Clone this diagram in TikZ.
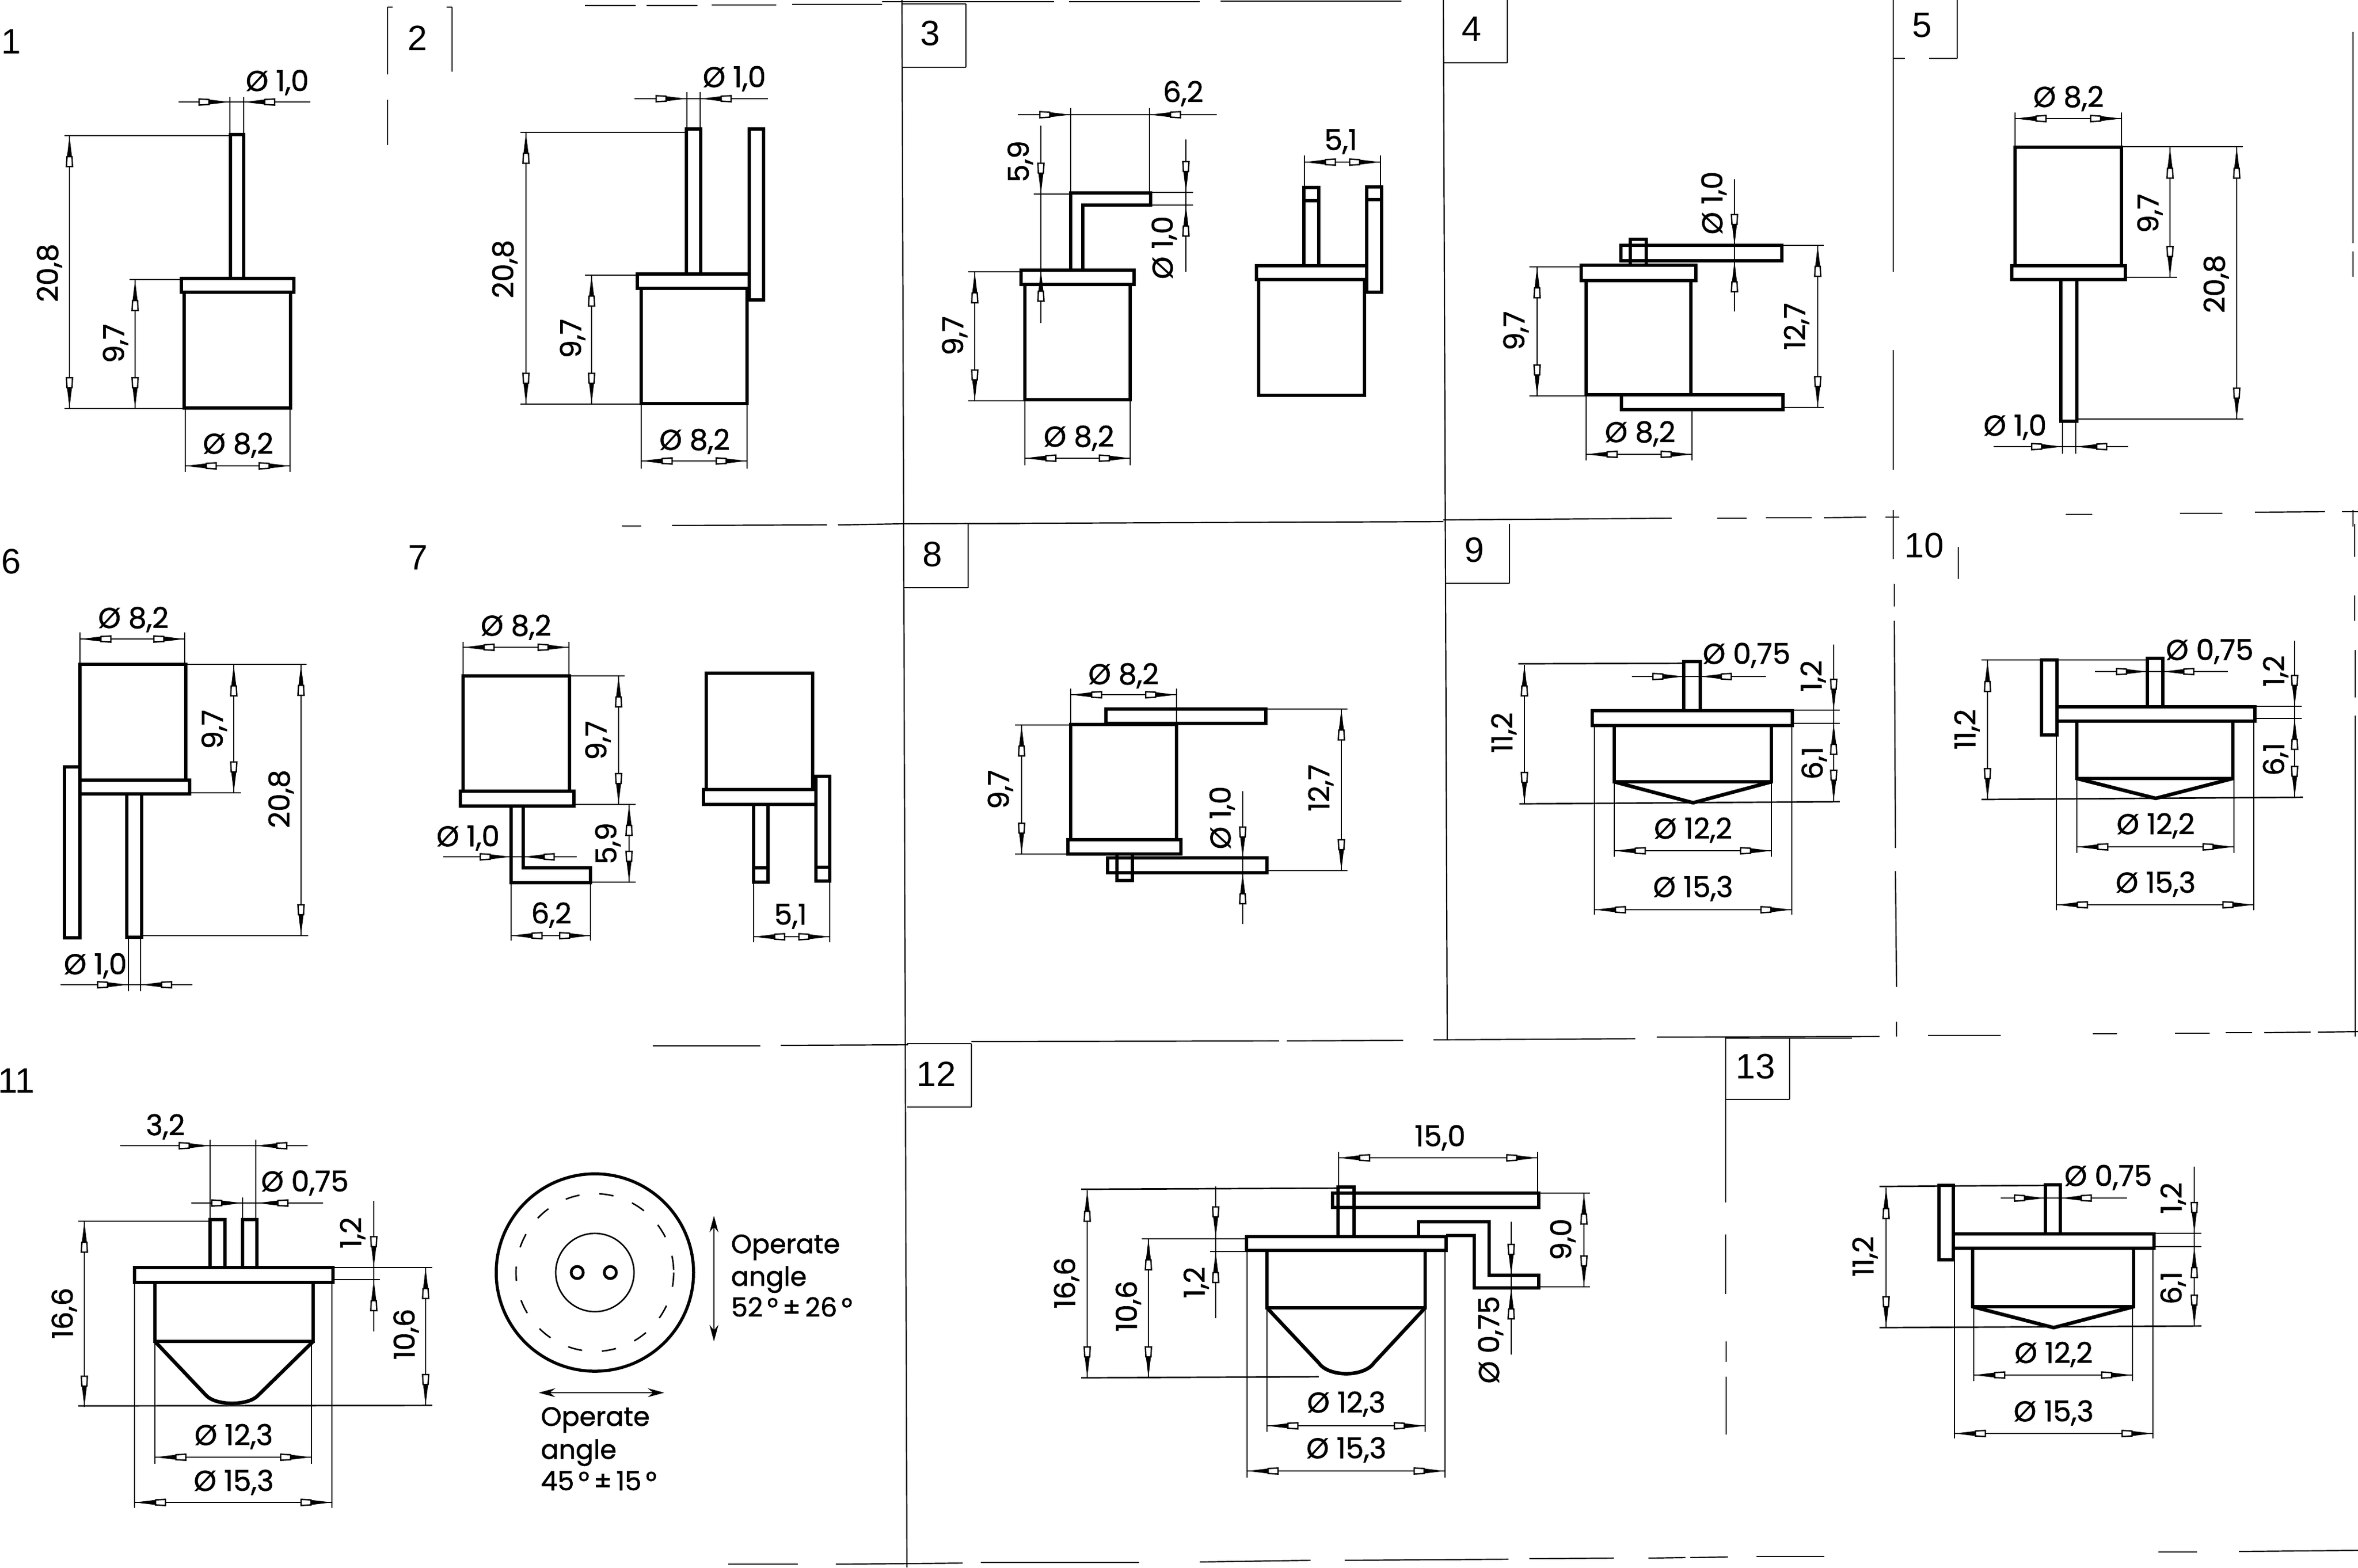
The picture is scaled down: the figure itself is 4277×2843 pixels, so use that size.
\documentclass[tikz,border=0pt]{standalone}
\usepackage{fontspec}
\usetikzlibrary{arrows.meta}
\setmainfont{Poppins}[FakeBold=1.2]
\newfontfamily\pnum{Liberation Sans}
\tikzset{
  ol/.style={line width=0.65pt,line join=miter},
  th/.style={line width=0.27pt},
  fr/.style={line width=0.22pt},
  dimtxt/.style={inner sep=0pt,text height=3.6pt,text depth=0pt,font=\fontsize{5.2}{6}\selectfont},
  pnumtxt/.style={inner sep=0pt,font=\pnum\fontsize{6.4}{7}\selectfont},
  optxt/.style={inner sep=0pt,anchor=west,text height=3.4pt,text depth=0pt,font=\fontsize{4.8}{5.8}\selectfont}
}
% arrow head: tip at (#1,#2), tail direction = #3 (canvas rotation)
\newcommand{\ah}[3]{\begin{scope}[shift={(#1,#2)},rotate=#3]
  \fill (0,0)--(38,-4.5)--(38,4.5)--cycle;
  \draw[line width=0.25pt,fill=white] (38,-4.5)--(56,-5.5)--(56,5.5)--(38,4.5)--cycle;
\end{scope}}
\newcommand{\dimH}[3]{\draw[th] (#1,#3)--(#2,#3);\ah{#1}{#3}{0}\ah{#2}{#3}{180}}
\newcommand{\dimV}[3]{\draw[th] (#1,#2)--(#1,#3);\ah{#1}{#2}{-90}\ah{#1}{#3}{90}}
% outside: line a..d, tips at b (pointing +) and c (pointing -)
\newcommand{\dimHo}[5]{\draw[th] (#1,#5)--(#4,#5);\ah{#2}{#5}{180}\ah{#3}{#5}{0}}
\newcommand{\dimVo}[5]{\draw[th] (#5,#1)--(#5,#4);\ah{#5}{#2}{90}\ah{#5}{#3}{-90}}
\newcommand{\thinl}[4]{\draw[th] (#1,#2)--(#3,#4);}
\newcommand{\rectb}[4]{\draw[ol] (#1,#2) rectangle (#3,#4);}
\newcommand{\lbl}[3]{\node[dimtxt] at (#1,#2) {#3};}
\newcommand{\lblr}[3]{\node[dimtxt,rotate=90] at (#1,#2) {#3};}
\newcommand{\pn}[3]{\node[pnumtxt] at (#1,#2) {#3};}
\begin{document}
\begin{tikzpicture}[x=0.1pt,y=-0.1pt]
\useasboundingbox (0,0) rectangle (4277,2843);
% ---------- frame lines
\foreach \a/\b/\c/\d in {
 1636/0/1645/2843, 2618/0/2625/1886, 2734/0/2734/114, 2618/114/2734/114,
 1636/7/1752/7, 1752/7/1752/122, 1636/122/1752/122,
 703/13/703/135, 703/181/703/263, 820/13/820/130, 703/13/712/13, 810/13/820/13,
 1061/10/1153/10, 1173/10/1265/10, 1291/9/1408/9, 1437/8/1600/8, 1600/3/1912/3, 1939/3/2176/3, 2214/2/2542/2,
 3434/0/3434/493, 3434/635/3434/852, 3434/925/3434/1014, 3436/1059/3436/1100, 3436/1126/3438/1538, 3438/1580/3440/1790, 3440/1853/3440/1880,
 3550/0/3550/106, 3434/106/3455/106, 3499/106/3550/106,
 4268/58/4268/441, 4268/456/4268/502, 4268/925/4268/955, 4271/950/4271/1010, 4271/1080/4271/1126, 4272/1179/4272/1265, 4272/1298/4272/1880,
 1128/954/1163/954, 1219/953/1500/952, 1520/952/1636/950, 1636/950/2618/946, 2618/943/3032/940, 3115/940/3168/940, 3203/939/3286/939, 3308/939/3385/938, 3420/938/3445/938,
 3747/933/3795/933, 3954/931/4031/931, 4090/929/4217/928, 4248/928/4277/928,
 1756/950/1756/1066, 1640/1066/1756/1066, 1756/950/1850/950,
 2622/1058/2738/1058, 2738/950/2738/1058,
 3552/992/3552/1050,
 1184/1897/1379/1897, 1416/1896/1647/1895, 1762/1893/1762/2008, 1645/2008/1762/2008, 1645/1893/1762/1893,
 1762/1889/2320/1888, 2334/1888/2545/1887, 2600/1886/2966/1884, 3005/1881/3409/1880, 3497/1878/3629/1878, 3796/1875/3840/1875, 3945/1874/4008/1874, 4037/1873/4085/1873, 4107/1873/4191/1872, 4204/1872/4277/1871,
 3130/1880/3130/2181, 3130/2239/3130/2347, 3131/2433/3131/2470, 3131/2497/3131/2602, 3246/1883/3246/1994, 3130/1994/3246/1994, 3130/1883/3359/1883,
 1321/2837/1447/2837, 1516/2837/1650/2836, 1650/2836/1746/2835, 1779/2834/2066/2834, 2176/2833/2377/2830, 2439/2830/2736/2828, 2774/2827/2927/2826, 2990/2826/3057/2825, 3066/2825/3134/2824, 3186/2823/3309/2823, 3915/2815/3985/2815, 4061/2814/4277/2812}
 {\draw[fr] (\a,\b)--(\c,\d);}
% ---------- panel numbers
\pn{20}{75}{1}\pn{757}{69}{2}\pn{1687}{60}{3}\pn{2669}{52}{4}\pn{3486}{46}{5}
\pn{20}{1018}{6}\pn{758}{1011}{7}\pn{1691}{1005}{8}\pn{2674}{997}{9}\pn{3490}{989}{10}
\pn{30}{1960}{11}\pn{1698}{1948}{12}\pn{3184}{1934}{13}
% ---------- 1
\rectb{418}{244}{442}{505}\rectb{329}{505}{533}{530}\rectb{334}{530}{527}{740}
\thinl{417}{176}{417}{244}\thinl{442}{176}{442}{244}\dimHo{324}{417}{442}{563}{185}\lbl{503}{147}{Ø 1,0}
\thinl{117}{246}{418}{246}\thinl{117}{741}{334}{741}\dimV{126}{246}{741}\lblr{87}{495}{20,8}
\thinl{235}{507}{329}{507}\dimV{245}{507}{741}\lblr{207}{623}{9,7}
\thinl{336}{740}{336}{856}\thinl{526}{740}{526}{856}\dimH{336}{526}{845}\lbl{432}{805}{Ø 8,2}
% ---------- 2
\rectb{1245}{234}{1271}{497}\rectb{1156}{497}{1359}{523}\rectb{1163}{523}{1355}{732}\rectb{1359}{234}{1385}{544}
\thinl{1246}{167}{1246}{234}\thinl{1270}{167}{1270}{234}\dimHo{1151}{1246}{1270}{1393}{179}\lbl{1332}{140}{Ø 1,0}
\thinl{944}{240}{1245}{240}\thinl{944}{733}{1163}{733}\dimV{954}{240}{733}\lblr{913}{488}{20,8}
\thinl{1061}{499}{1156}{499}\dimV{1073}{499}{733}\lblr{1036}{614}{9,7}
\thinl{1163}{732}{1163}{850}\thinl{1355}{732}{1355}{850}\dimH{1163}{1355}{836}\lbl{1260}{798}{Ø 8,2}
% ---------- 3 left
\rectb{1852}{490}{2057}{516}\rectb{1859}{516}{2050}{725}
\draw[ol] (1942,490)--(1942,350)--(2087,350)--(2087,372)--(1964,372)--(1964,490);
\thinl{1942}{196}{1942}{350}\thinl{2085}{196}{2085}{350}\dimHo{1846}{1942}{2085}{2207}{208}\lbl{2146}{167}{6,2}
\thinl{1875}{352}{1942}{352}\dimVo{228}{352}{490}{586}{1888}\lblr{1848}{293}{5,9}
\thinl{2087}{349}{2164}{349}\thinl{2087}{372}{2164}{372}\dimVo{253}{349}{372}{493}{2151}\lblr{2109}{449}{Ø 1,0}
\thinl{1756}{493}{1852}{493}\thinl{1756}{727}{1859}{727}\dimV{1768}{493}{727}\lblr{1729}{609}{9,7}
\thinl{1859}{725}{1859}{844}\thinl{2050}{725}{2050}{844}\dimH{1859}{2050}{831}\lbl{1957}{792}{Ø 8,2}
% ---------- 3 right
\rectb{2279}{482}{2479}{507}\rectb{2283}{507}{2475}{717}
\rectb{2365}{340}{2392}{482}\draw[ol] (2365,364)--(2392,364);
\rectb{2479}{339}{2506}{530}\draw[ol] (2479,362)--(2506,362);
\thinl{2366}{282}{2366}{340}\thinl{2504}{282}{2504}{339}\dimH{2366}{2504}{294}\lbl{2432}{254}{5,1}
% ---------- 4
\rectb{2868}{481}{3076}{509}\rectb{2877}{509}{3067}{716}
\rectb{2940}{445}{3232}{473}\rectb{2957}{434}{2986}{481}\rectb{2941}{716}{3234}{743}
\thinl{2774}{484}{2868}{484}\thinl{2774}{718}{2877}{718}\dimV{2788}{484}{718}\lblr{2747}{600}{9,7}
\thinl{3232}{445}{3308}{445}\thinl{3234}{739}{3308}{739}\dimV{3297}{445}{739}\lblr{3256}{592}{12,7}
\dimVo{325}{445}{473}{565}{3146}\lblr{3106}{368}{Ø 1,0}
\thinl{2877}{716}{2877}{835}\thinl{3069}{743}{3069}{835}\dimH{2877}{3069}{824}\lbl{2975}{784}{Ø 8,2}
% ---------- 5
\rectb{3655}{267}{3848}{482}\rectb{3649}{482}{3855}{507}\rectb{3738}{507}{3767}{764}
\thinl{3655}{204}{3655}{267}\thinl{3848}{204}{3848}{267}\dimH{3655}{3848}{215}\lbl{3752}{176}{Ø 8,2}
\thinl{3848}{266}{4068}{266}\thinl{3855}{503}{3949}{503}\dimV{3936}{267}{503}\lblr{3897}{387}{9,7}
\thinl{3767}{760}{4069}{760}\dimV{4057}{267}{760}\lblr{4017}{515}{20,8}
\thinl{3741}{764}{3741}{823}\thinl{3765}{764}{3765}{823}\dimHo{3616}{3741}{3765}{3860}{810}\lbl{3655}{772}{Ø 1,0}
% ---------- 6
\rectb{145}{1205}{337}{1415}\rectb{145}{1415}{344}{1440}\rectb{117}{1391}{145}{1701}\rectb{230}{1440}{257}{1700}
\thinl{145}{1147}{145}{1205}\thinl{335}{1147}{335}{1205}\dimH{145}{335}{1159}\lbl{242}{1121}{Ø 8,2}
\thinl{337}{1205}{556}{1205}\thinl{344}{1438}{437}{1438}\dimV{424}{1206}{1438}\lblr{386}{1323}{9,7}
\thinl{257}{1697}{559}{1697}\dimV{546}{1205}{1697}\lblr{507}{1449}{20,8}
\thinl{233}{1700}{233}{1798}\thinl{255}{1700}{255}{1798}\dimHo{110}{233}{255}{349}{1786}\lbl{173}{1749}{Ø 1,0}
% ---------- 7 left
\rectb{840}{1226}{1033}{1435}\rectb{835}{1435}{1041}{1462}
\draw[ol] (927,1462)--(927,1601)--(1071,1601)--(1071,1574)--(949,1574)--(949,1462);
\thinl{840}{1164}{840}{1226}\thinl{1032}{1164}{1032}{1226}\dimH{840}{1032}{1174}\lbl{936}{1135}{Ø 8,2}
\thinl{1033}{1226}{1133}{1226}\thinl{1041}{1459}{1153}{1459}\dimV{1122}{1226}{1459}\lblr{1082}{1343}{9,7}
\thinl{1071}{1600}{1153}{1600}\dimV{1141}{1459}{1600}\lblr{1100}{1530}{5,9}
\dimHo{804}{927}{949}{1046}{1554}\lbl{849}{1517}{Ø 1,0}
\thinl{927}{1601}{927}{1706}\thinl{1071}{1601}{1071}{1706}\dimH{927}{1071}{1697}\lbl{1000}{1657}{6,2}
% ---------- 7 right
\rectb{1281}{1221}{1474}{1432}\rectb{1276}{1432}{1480}{1459}
\rectb{1367}{1459}{1393}{1600}\draw[ol] (1367,1574)--(1393,1574);
\rectb{1480}{1408}{1505}{1598}\draw[ol] (1480,1573)--(1505,1573);
\thinl{1367}{1600}{1367}{1709}\thinl{1505}{1598}{1505}{1709}\dimH{1367}{1505}{1699}\lbl{1434}{1659}{5,1}
% ---------- 8
\rectb{1942}{1314}{2134}{1523}\rectb{1937}{1523}{2142}{1549}
\rectb{2006}{1286}{2296}{1312}\rectb{2009}{1556}{2298}{1583}\rectb{2026}{1549}{2054}{1597}
\thinl{1942}{1249}{1942}{1314}\thinl{2134}{1249}{2134}{1314}\dimH{1942}{2134}{1260}\lbl{2038}{1223}{Ø 8,2}
\thinl{1841}{1315}{1942}{1315}\thinl{1841}{1549}{1937}{1549}\dimV{1853}{1315}{1549}\lblr{1812}{1432}{9,7}
\thinl{2296}{1286}{2444}{1286}\thinl{2298}{1579}{2444}{1579}\dimV{2433}{1286}{1579}\lblr{2393}{1429}{12,7}
\dimVo{1435}{1556}{1583}{1676}{2254}\lblr{2214}{1483}{Ø 1,0}
% ---------- 9
\rectb{2888}{1289}{3251}{1316}\draw[ol] (2928,1316)--(2928,1418)--(3213,1418)--(3213,1316);
\draw[ol] (2928,1418)--(3071,1456)--(3213,1418);
\rectb{3054}{1200}{3084}{1289}
\dimHo{2960}{3054}{3084}{3203}{1227}\lbl{3168}{1186}{Ø 0,75}
\thinl{3251}{1288}{3337}{1288}\thinl{3251}{1312}{3337}{1312}\thinl{2756}{1458}{3337}{1454}
\draw[th] (3326,1169)--(3326,1453);\ah{3326}{1288}{90}\ah{3326}{1312}{-90}\ah{3326}{1453}{90}
\lblr{3286}{1226}{1,2}\lblr{3288}{1384}{6,1}
\thinl{2754}{1204}{3054}{1203}\dimV{2765}{1206}{1457}\lblr{2725}{1329}{11,2}
\thinl{2928}{1418}{2928}{1554}\thinl{3213}{1418}{3213}{1554}\dimH{2928}{3213}{1543}\lbl{3071}{1503}{Ø 12,2}
\thinl{2892}{1317}{2892}{1659}\thinl{3250}{1317}{3250}{1659}\dimH{2892}{3250}{1650}\lbl{3071}{1609}{Ø 15,3}
% ---------- 10
\rectb{3731}{1282}{4090}{1308}\draw[ol] (3767,1308)--(3767,1412)--(4050,1412)--(4050,1308);
\draw[ol] (3767,1412)--(3910,1448)--(4050,1412);
\rectb{3895}{1194}{3923}{1282}\rectb{3703}{1197}{3731}{1333}
\dimHo{3800}{3895}{3923}{4041}{1218}\lbl{4008}{1179}{Ø 0,75}
\thinl{4090}{1281}{4175}{1281}\thinl{4090}{1303}{4175}{1303}\thinl{3594}{1450}{4177}{1446}
\draw[th] (4162,1162)--(4162,1446);\ah{4162}{1281}{90}\ah{4162}{1303}{-90}\ah{4162}{1446}{90}
\lblr{4125}{1217}{1,2}\lblr{4125}{1377}{6,1}
\thinl{3594}{1197}{3895}{1197}\dimV{3605}{1198}{1450}\lblr{3565}{1323}{11,2}
\thinl{3767}{1412}{3767}{1547}\thinl{4052}{1412}{4052}{1547}\dimH{3767}{4052}{1536}\lbl{3910}{1495}{Ø 12,2}
\thinl{3730}{1333}{3730}{1651}\thinl{4088}{1308}{4088}{1651}\dimH{3730}{4088}{1641}\lbl{3910}{1601}{Ø 15,3}
% ---------- 11
\rectb{381}{2212}{408}{2299}\rectb{440}{2212}{466}{2299}
\rectb{244}{2299}{604}{2326}
\draw[ol] (281,2326)--(281,2433)--(568,2433)--(568,2326);
\draw[ol] (281,2433)--(374,2531) .. controls (392,2550) and (450,2550) .. (468,2531)--(568,2433);
\thinl{381}{2067}{381}{2212}\thinl{464}{2067}{464}{2212}\dimHo{218}{381}{464}{558}{2078}\lbl{300}{2041}{3,2}
\thinl{440}{2172}{440}{2212}\dimHo{347}{440}{466}{586}{2182}\lbl{553}{2143}{Ø 0,75}
\thinl{604}{2299}{784}{2299}\thinl{604}{2321}{689}{2321}
\dimVo{2178}{2299}{2321}{2415}{678}\lblr{637}{2236}{1,2}
\thinl{142}{2550}{784}{2549}\dimV{772}{2299}{2549}\lblr{734}{2420}{10,6}
\thinl{142}{2215}{381}{2215}\dimV{153}{2215}{2552}\lblr{114}{2382}{16,6}
\thinl{281}{2433}{281}{2655}\thinl{565}{2433}{565}{2655}\dimH{281}{565}{2643}\lbl{424}{2603}{Ø 12,3}
\thinl{244}{2326}{244}{2735}\thinl{602}{2326}{602}{2735}\dimH{244}{602}{2725}\lbl{424}{2686}{Ø 15,3}
% view
\draw[line width=0.55pt] (1079,2308) circle [radius=179];
\draw[line width=0.27pt,dash pattern=on 2.6pt off 3.6pt] (1079,2308) circle [radius=143];
\draw[th] (1079,2308) circle [radius=71];
\draw[line width=0.5pt] (1047,2308) circle [radius=11];
\draw[line width=0.5pt] (1107,2308) circle [radius=11];
\draw[th,{Stealth[length=3pt,width=1.6pt]}-{Stealth[length=3pt,width=1.6pt]}] (1295,2205)--(1295,2433);
\draw[th,{Stealth[length=3pt,width=1.6pt]}-{Stealth[length=3pt,width=1.6pt]}] (977,2526)--(1205,2526);
\node[optxt] at (1324,2256) {Operate};
\node[optxt] at (1324,2315) {angle};
\node[optxt] at (1324,2371) {52\,°\,±\,26\,°};
\node[optxt] at (979,2569) {Operate};
\node[optxt] at (979,2629) {angle};
\node[optxt] at (979,2686) {45\,°\,±\,15\,°};
% ---------- 12
\rectb{2261}{2243}{2623}{2268}
\draw[ol] (2298,2268)--(2298,2372)--(2585,2372)--(2585,2268);
\draw[ol] (2298,2372)--(2392,2472) .. controls (2410,2498) and (2474,2498) .. (2492,2472)--(2585,2372);
\rectb{2427}{2153}{2456}{2243}\rectb{2417}{2164}{2791}{2190}
\draw[ol] (2573,2243)--(2573,2216)--(2701,2216)--(2701,2313)--(2791,2313)--(2791,2336)--(2674,2336)--(2674,2241)--(2623,2241);
\thinl{2428}{2089}{2428}{2153}\thinl{2789}{2089}{2789}{2164}\dimH{2428}{2789}{2100}\lbl{2612}{2061}{15,0}
\thinl{2791}{2164}{2884}{2164}\thinl{2791}{2334}{2884}{2334}\dimV{2873}{2164}{2334}\lblr{2832}{2248}{9,0}
\dimVo{2216}{2313}{2336}{2457}{2741}\lblr{2701}{2430}{Ø 0,75}
\thinl{1961}{2157}{2427}{2155}\thinl{1961}{2499}{2392}{2497}\dimV{1972}{2159}{2499}\lblr{1932}{2327}{16,6}
\thinl{2071}{2247}{2261}{2247}\dimV{2083}{2247}{2499}\lblr{2044}{2369}{10,6}
\thinl{2195}{2270}{2261}{2270}\dimVo{2152}{2245}{2270}{2391}{2205}\lblr{2167}{2326}{1,2}
\thinl{2298}{2372}{2298}{2597}\thinl{2585}{2372}{2585}{2597}\dimH{2298}{2585}{2586}\lbl{2442}{2544}{Ø 12,3}
\thinl{2262}{2268}{2262}{2680}\thinl{2621}{2268}{2621}{2680}\dimH{2262}{2621}{2668}\lbl{2442}{2627}{Ø 15,3}
% ---------- 13
\rectb{3543}{2238}{3907}{2264}\draw[ol] (3578,2264)--(3578,2370)--(3870,2370)--(3870,2264);
\draw[ol] (3578,2370)--(3725,2408)--(3870,2370);
\rectb{3710}{2149}{3737}{2238}\rectb{3517}{2150}{3543}{2285}
\dimHo{3629}{3710}{3737}{3858}{2173}\lbl{3824}{2133}{Ø 0,75}
\thinl{3907}{2237}{3993}{2237}\thinl{3907}{2261}{3993}{2261}\thinl{3409}{2408}{3993}{2405}
\draw[th] (3980,2116)--(3980,2405);\ah{3980}{2237}{90}\ah{3980}{2261}{-90}\ah{3980}{2405}{90}
\lblr{3939}{2173}{1,2}\lblr{3939}{2336}{6,1}
\thinl{3409}{2152}{3710}{2150}\dimV{3421}{2154}{2408}\lblr{3380}{2279}{11,2}
\thinl{3580}{2370}{3580}{2505}\thinl{3868}{2370}{3868}{2505}\dimH{3580}{3868}{2494}\lbl{3725}{2454}{Ø 12,2}
\thinl{3545}{2285}{3545}{2609}\thinl{3905}{2264}{3905}{2609}\dimH{3545}{3905}{2600}\lbl{3725}{2560}{Ø 15,3}
\end{tikzpicture}
\end{document}
